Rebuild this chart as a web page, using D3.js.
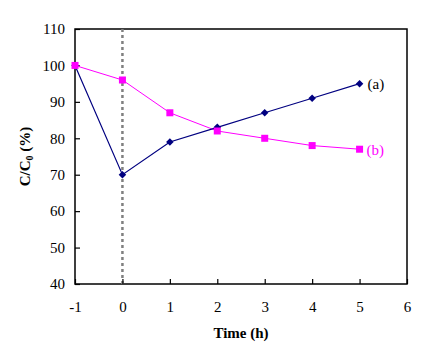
<!DOCTYPE html>
<html>
<head>
<meta charset="utf-8">
<script src="https://cdn.jsdelivr.net/npm/d3@7"></script>
<style>
  body { margin: 0; background: #fff; }
</style>
</head>
<body>
<div class="canvas"></div>
<script>
const times = [-1, 0, 1, 2, 3, 4, 5];
const seriesA = [100, 70, 79, 83, 87, 91, 95];
const seriesB = [100, 96, 87, 82, 80, 78, 77];
const xTicks = [-1, 0, 1, 2, 3, 4, 5, 6];
const yTicks = [40, 50, 60, 70, 80, 90, 100, 110];

const serif = "'Times New Roman', 'Liberation Serif', 'DejaVu Serif', serif";
const width = 427, height = 352;
const margin = { top: 29, right: 20, bottom: 68, left: 75 };

const x = d3.scaleLinear().domain([-1, 6]).range([margin.left, width - margin.right]);
const y = d3.scaleLinear().domain([40, 110]).range([height - margin.bottom, margin.top]);

const svg = d3.select(".canvas").append("svg")
  .attr("width", width)
  .attr("height", height);

// frame
svg.append("rect")
  .attr("x", x(-1)).attr("y", y(110))
  .attr("width", x(6) - x(-1)).attr("height", y(40) - y(110))
  .attr("fill", "none").attr("stroke", "#000").attr("stroke-width", 1.5);

// dashed vertical at t=0
svg.append("line")
  .attr("x1", x(0)).attr("x2", x(0))
  .attr("y1", y(110)).attr("y2", y(40))
  .attr("stroke", "#808080").attr("stroke-width", 2.5)
  .attr("stroke-dasharray", "3,3");

const xAxis = svg.append("g")
  .attr("transform", `translate(0,${y(40)})`)
  .call(d3.axisBottom(x).tickValues(xTicks).tickFormat(d => String(d))
    .tickSizeInner(-5).tickSizeOuter(0).tickPadding(17));
const yAxis = svg.append("g")
  .attr("transform", `translate(${x(-1)},0)`)
  .call(d3.axisLeft(y).tickValues(yTicks).tickFormat(d => String(d))
    .tickSizeInner(-5).tickSizeOuter(0).tickPadding(10));

[xAxis, yAxis].forEach(g => {
  g.attr("font-family", null);
  g.select(".domain").remove();
  g.selectAll(".tick line").attr("stroke", "#000").attr("stroke-width", 1.2);
  g.selectAll(".tick text").attr("font-size", 15).attr("fill", "#000");
});

const line = d3.line().x((d, i) => x(times[i])).y(d => y(d));

svg.append("path").datum(seriesB)
  .attr("d", line).attr("fill", "none").attr("stroke", "#ff00ff").attr("stroke-width", 1);
svg.append("path").datum(seriesA)
  .attr("d", line).attr("fill", "none").attr("stroke", "#000080").attr("stroke-width", 1.2);

svg.append("g").selectAll("path")
  .data(seriesA)
  .join("path")
  .attr("transform", (d, i) => `translate(${x(times[i])},${y(d)})`)
  .attr("d", d3.symbol(d3.symbolDiamond2, 36))
  .attr("fill", "#000080");

svg.append("g").selectAll("rect")
  .data(seriesB)
  .join("rect")
  .attr("x", (d, i) => x(times[i]) - 3.5)
  .attr("y", d => y(d) - 3.5)
  .attr("width", 7).attr("height", 7)
  .attr("fill", "#ff00ff");

svg.append("text")
  .attr("x", x(5) + 8).attr("y", y(seriesA[6]) + 5)
  .attr("font-size", 15).attr("fill", "#000").text("(a)");
svg.append("text")
  .attr("x", x(5) + 7).attr("y", y(seriesB[6]) + 6)
  .attr("font-size", 15).attr("fill", "#ff00ff").text("(b)");

svg.append("text")
  .attr("x", (x(-1) + x(6)) / 2).attr("y", 338)
  .attr("text-anchor", "middle").attr("font-size", 15).attr("font-weight", "bold")
  .text("Time (h)");

const yl = svg.append("text")
  .attr("transform", `translate(30,${(y(40) + y(110)) / 2}) rotate(-90)`)
  .attr("text-anchor", "middle").attr("font-size", 15).attr("font-weight", "bold");
yl.append("tspan").text("C/C");
yl.append("tspan").attr("font-size", 10).attr("dy", 3).text("0");
yl.append("tspan").attr("dy", -3).text(" (%)");

svg.selectAll("text").style("font-family", serif);
</script>
</body>
</html>
